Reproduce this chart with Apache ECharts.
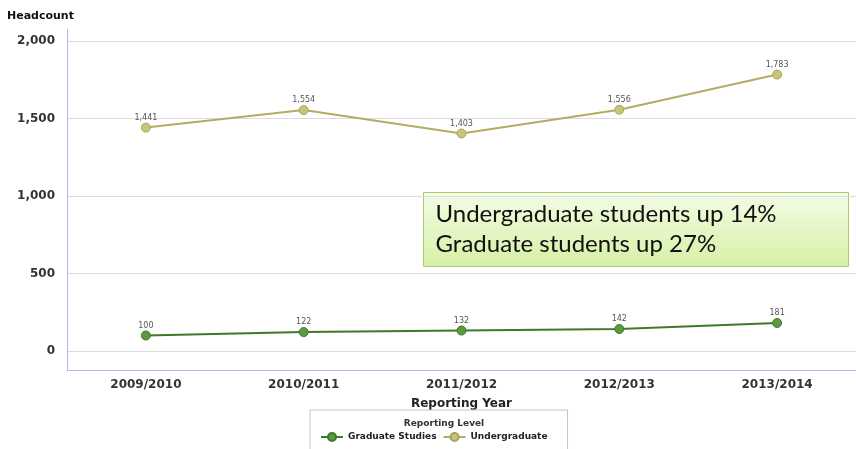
<!DOCTYPE html>
<html><head><meta charset="utf-8">
<script src="https://cdn.jsdelivr.net/npm/echarts@6/dist/echarts.min.js"></script>
<style>html,body{margin:0;padding:0;background:#fff}#c{width:856px;height:449px}</style>
</head><body><div id="c"></div>
<script>
const years = ['2009/2010','2010/2011','2011/2012','2012/2013','2013/2014'];
const graduate = [100, 122, 132, 142, 181];
const undergraduate = [1441, 1554, 1403, 1556, 1783];
const yTicks = [0, 500, 1000, 1500, 2000];
const noteLines = ['Undergraduate students up 14%', 'Graduate students up 27%'];

const chart = echarts.init(document.getElementById('c'));
const F = 'DejaVu Sans';
const gridColors = [];
for (let k = 0; k < 20; k++) gridColors.push(k === 5 ? '#dcdcdc' : 'rgba(0,0,0,0)');

chart.setOption({
  animation: false,
  title: [
    {text: 'Headcount', left: 2, top: 6, textStyle: {fontFamily: F, fontSize: 11, fontWeight: 'bold', color: '#111'}},
    {text: 'Reporting Level', left: 439, top: 414, textAlign: 'center', z: 10,
     textStyle: {fontFamily: F, fontSize: 9, fontWeight: 'bold', color: '#333'}}
  ],
  grid: {left: 67, top: 29.3, width: 800, bottom: 78.6, containLabel: false},
  legend: {
    left: 310, top: 410, padding: [22, 20, 8, 10], itemGap: 6,
    itemWidth: 22, itemHeight: 10,
    borderColor: '#b3c9e0', borderWidth: 1, backgroundColor: '#fff',
    textStyle: {fontFamily: F, fontSize: 9, fontWeight: 'bold', color: '#222'},
    data: ['Graduate Studies', 'Undergraduate']
  },
  xAxis: {
    type: 'category', data: years, boundaryGap: true,
    name: 'Reporting Year', nameLocation: 'middle', nameGap: 27,
    nameTextStyle: {fontFamily: F, fontSize: 12, fontWeight: 'bold', color: '#222'},
    axisLine: {onZero: false, lineStyle: {color: '#a9c3de', width: 1}},
    axisTick: {show: false},
    axisLabel: {margin: 8, fontFamily: F, fontSize: 12, fontWeight: 'bold', color: '#333'}
  },
  yAxis: {
    type: 'value', min: -125, max: 2075, interval: 25,
    axisLine: {show: true, lineStyle: {color: '#a9c3de', width: 1}},
    axisTick: {show: false},
    axisLabel: {margin: 12, fontFamily: F, fontSize: 12, fontWeight: 'bold', color: '#333',
      formatter: v => (yTicks.indexOf(v) >= 0 ? v.toLocaleString('en-US') : '')},
    splitLine: {show: true, lineStyle: {color: gridColors, width: 1}}
  },
  series: [
    {name: 'Graduate Studies', type: 'line', data: graduate,
     symbol: 'circle', symbolSize: 9,
     lineStyle: {color: '#3d7a2c', width: 2},
     itemStyle: {color: '#5b9a3e', borderColor: '#3d7a2c', borderWidth: 1},
     label: {show: true, position: 'top', distance: 1, fontFamily: F, fontSize: 8, color: '#555',
       formatter: p => p.value.toLocaleString('en-US')}},
    {name: 'Undergraduate', type: 'line', data: undergraduate,
     symbol: 'circle', symbolSize: 9,
     lineStyle: {color: '#b3ad62', width: 2},
     itemStyle: {color: '#c9c479', borderColor: '#a9a35a', borderWidth: 1},
     label: {show: true, position: 'top', distance: 1, fontFamily: F, fontSize: 8, color: '#555',
       formatter: p => p.value.toLocaleString('en-US')}}
  ],
  graphic: [{
    type: 'group', left: 423, top: 192, z: 20,
    children: [
      {type: 'rect', shape: {x: 0, y: 0, width: 425, height: 74},
       style: {fill: new echarts.graphic.LinearGradient(0, 0, 0, 1, [
         {offset: 0, color: '#f4fce6'}, {offset: 1, color: '#d6f1a6'}]),
         stroke: '#a5cd6c', lineWidth: 1}},
      {type: 'text', x: 12, y: 7,
       style: {text: noteLines.join('\n'), font: '24px Lato', lineHeight: 30, fill: '#111'}}
    ]
  }]
});
</script></body></html>
